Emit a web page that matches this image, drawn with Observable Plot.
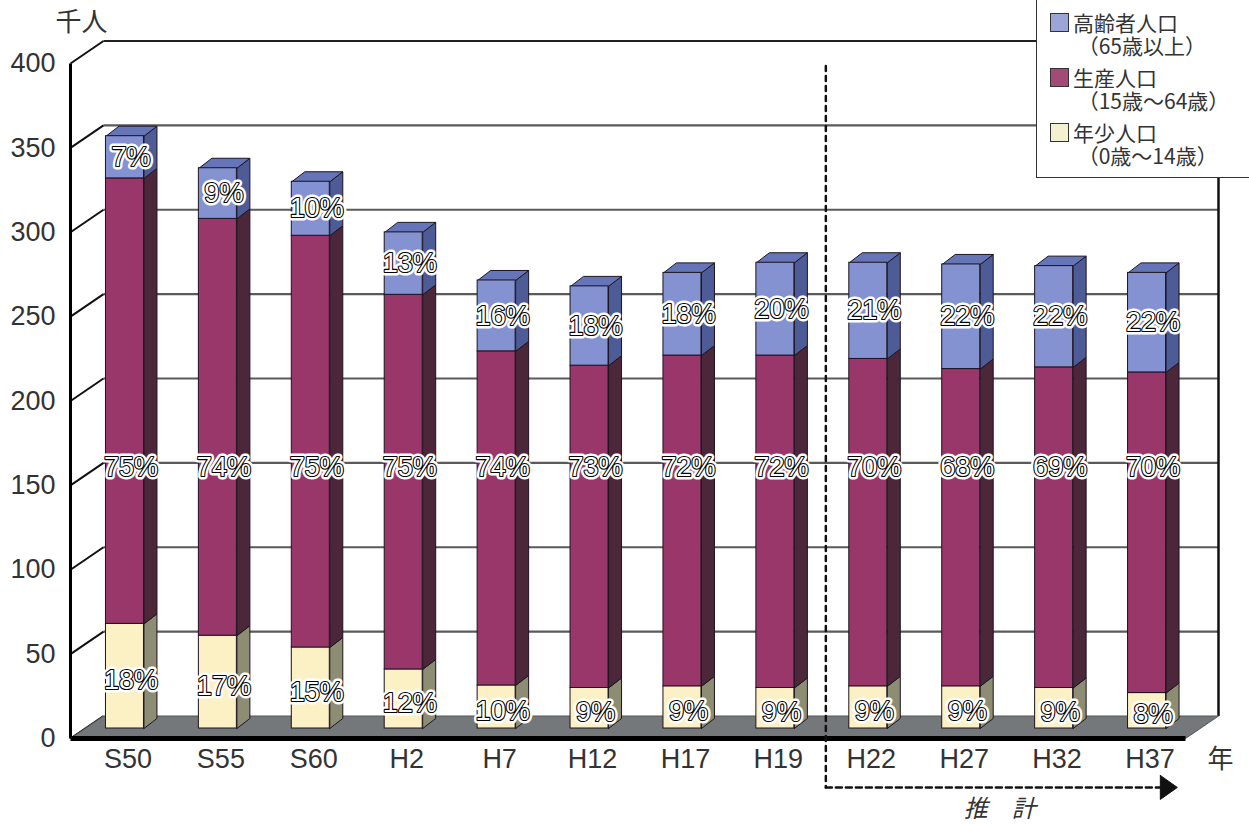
<!DOCTYPE html>
<html>
<head>
<meta charset="utf-8">
<script src="https://cdn.jsdelivr.net/npm/d3@7"></script>
<script src="https://cdn.jsdelivr.net/npm/@observablehq/plot@0.6"></script>
<style>
  html, body { margin: 0; padding: 0; background: #fff; }
  #wrap { position: relative; width: 1249px; height: 824px; overflow: hidden; }
  #legend { position: absolute; left: 1036px; top: -1px; width: 230px; height: 179px;
            border: 1px solid #333; background: #fff; box-sizing: border-box;
            font-family: "Noto Sans CJK JP", "Liberation Sans", sans-serif; color: #333; }
  .sw { position: absolute; left: 13px; width: 19px; height: 19px; border: 1px solid #333; box-sizing: border-box; }
  .lt { position: absolute; left: 36px; font-size: 21px; line-height: 23px; white-space: pre; }
</style>
</head>
<body>
<div id="wrap"><div id="chart"></div><div id="legend"></div></div>
<script>
// ---- data (thousand persons) ----
const categories = ["S50","S55","S60","H2","H7","H12","H17","H19","H22","H27","H32","H37"];
const young   = [62, 55, 48, 35, 25.5, 24, 25, 24, 25, 25, 24, 21];
const working = [264, 247, 244, 222, 198, 191, 196, 197, 194, 188, 190, 190];
const elderly = [25, 30, 32, 37, 42, 47, 49, 55, 57, 62, 60, 59];
const youngPct   = ["18%","17%","15%","12%","10%","9%","9%","9%","9%","9%","9%","8%"];
const workingPct = ["75%","74%","75%","75%","74%","73%","72%","72%","70%","68%","69%","70%"];
const elderlyPct = ["7%","9%","10%","13%","16%","18%","18%","20%","21%","22%","22%","22%"];
const yTicks = [0, 50, 100, 150, 200, 250, 300, 350, 400];
const legendItems = [
  {line1: "高齢者人口", line2: "（65歳以上）", color: "#9aa5d8"},
  {line1: "生産人口",   line2: "（15歳〜64歳）", color: "#a34b76"},
  {line1: "年少人口",   line2: "（0歳〜14歳）", color: "#f4f1d0"}
];
const forecastFrom = "H22";

// ---- layout ----
const W = 1249, H = 824;
const mL = 70, mR = 64, mT = 63, mB = 86;
const pxX = (W - mL - mR) / categories.length;
const pxY = (H - mT - mB) / 400;
const WALL_DX = 33 / pxX, WALL_DY = 22.5 / pxY;
const BAR_W = 38 / pxX, DEP_X = 13 / pxX, DEP_Y = 10 / pxY;
const BDX = 8, BDY = -10;
const n = categories.length;

const series = [
  {values: young,   pct: youngPct,   front: "#fcf1c4", side: "#8d8d74", top: "#d9d2a4"},
  {values: working, pct: workingPct, front: "#9a376a", side: "#4c2639", top: "#7a2c56"},
  {values: elderly, pct: elderlyPct, front: "#8492d1", side: "#4d5b97", top: "#6675b8"}
];

const segs = [];
categories.forEach((c, i) => {
  let base = 0;
  series.forEach((s, k) => {
    const v = s.values[i];
    segs.push({i, k, lo: base, hi: base + v, pct: s.pct[i], s, isTop: k === series.length - 1});
    base += v;
  });
});

const sidePts = [], topPts = [];
segs.forEach((g, j) => {
  const xr = g.i + 0.5 + BAR_W / 2, xl = g.i + 0.5 - BAR_W / 2;
  [[xr, g.lo], [xr + DEP_X, g.lo + DEP_Y], [xr + DEP_X, g.hi + DEP_Y], [xr, g.hi], [xr, g.lo]]
    .forEach(([x, y]) => sidePts.push({x, y, z: j, fill: g.s.side}));
  if (g.isTop) {
    [[xl, g.hi], [xr, g.hi], [xr + DEP_X, g.hi + DEP_Y], [xl + DEP_X, g.hi + DEP_Y], [xl, g.hi]]
      .forEach(([x, y]) => topPts.push({x, y, z: j, fill: g.s.top}));
  }
});

const floorPts = [[0, 0], [n, 0], [n + WALL_DX, WALL_DY], [WALL_DX, WALL_DY], [0, 0]].map(([x, y]) => ({x, y}));
const grid = yTicks.filter(v => v > 0 && v < 400);

const fontLatin = '"Liberation Sans", "Noto Sans CJK JP", sans-serif';
const fontJP = '"Noto Sans CJK JP", "Liberation Sans", sans-serif';

// label anchor: middle of segment; working-age labels sit at a common level; young labels a bit lower
const WORK_LABEL_LEVEL = 155;
const labelY = g => g.k === 1 ? WORK_LABEL_LEVEL : (g.lo + g.hi) / 2 - (g.k === 0 ? 4 / pxY : 0);

const fx = categories.indexOf(forecastFrom);
const arrowY = -29;
const arrowEnd = 11.6;

const chart = Plot.plot({
  width: W, height: H,
  marginLeft: mL, marginRight: mR, marginTop: mT, marginBottom: mB,
  x: {type: "linear", domain: [0, n], axis: null},
  y: {domain: [0, 400], axis: null},
  style: {fontFamily: fontLatin, background: "#fff", overflow: "visible"},
  marks: [
    // back wall grid lines
    Plot.link(grid, {x1: () => WALL_DX, x2: () => n + WALL_DX, y1: d => d + WALL_DY, y2: d => d + WALL_DY, stroke: "#5a5a5a", strokeWidth: 2.2}),
    // left wall diagonals
    Plot.link(yTicks, {x1: () => 0, x2: () => WALL_DX, y1: d => d, y2: d => d + WALL_DY, stroke: "#111", strokeWidth: 2}),
    // wall top border and right border
    Plot.link([400], {x1: () => WALL_DX, x2: () => n + WALL_DX, y1: d => d + WALL_DY, y2: d => d + WALL_DY, stroke: "#222", strokeWidth: 2.2}),
    Plot.link([400], {x1: () => n + WALL_DX, x2: () => n + WALL_DX, y1: () => WALL_DY, y2: d => d + WALL_DY, stroke: "#111", strokeWidth: 2.5}),
    // floor
    Plot.line(floorPts, {x: "x", y: "y", fill: "#74787b", stroke: "#555", strokeWidth: 1}),
    // front edge & axis
    Plot.link([0], {x1: () => 0, x2: () => n, y1: d => d, y2: d => d, stroke: "#000", strokeWidth: 5}),
    Plot.link([0], {x1: () => 0, x2: () => 0, y1: d => d, y2: () => 400, stroke: "#000", strokeWidth: 3}),
    // bars: side faces, top faces, front faces
    Plot.line(sidePts, {x: "x", y: "y", z: "z", fill: d => d.fill, stroke: "#1c1420", strokeWidth: 1, dx: BDX, dy: BDY}),
    Plot.line(topPts, {x: "x", y: "y", z: "z", fill: d => d.fill, stroke: "#1c1420", strokeWidth: 1, dx: BDX, dy: BDY}),
    Plot.rect(segs, {x1: g => g.i + 0.5 - BAR_W / 2, x2: g => g.i + 0.5 + BAR_W / 2, y1: "lo", y2: "hi",
      fill: g => g.s.front, stroke: "#1c1420", strokeWidth: 1, dx: BDX, dy: BDY}),
    // percentage labels: white halo then outlined white text
    Plot.text(segs, {x: g => g.i + 0.5, y: labelY, text: "pct", dx: BDX + 6, dy: BDY,
      fontSize: 27, fill: "#fff", stroke: "#fff", strokeWidth: 7, paintOrder: "stroke", fontFamily: fontLatin}),
    Plot.text(segs, {x: g => g.i + 0.5, y: labelY, text: "pct", dx: BDX + 6, dy: BDY,
      fontSize: 27, fill: "#fff", stroke: "#000", strokeWidth: 2.2, paintOrder: "stroke", fontFamily: fontLatin}),
    // y tick labels
    Plot.text(yTicks, {x: () => 0, y: d => d, text: d => String(d), dx: -15, textAnchor: "end",
      fontSize: 27, fill: "#333", fontFamily: fontLatin}),
    // x tick labels
    Plot.text(categories, {x: (d, i) => i + 0.5, y: () => 0, text: d => d, dx: 11, dy: 21,
      fontSize: 27, fill: "#333", fontFamily: fontLatin}),
    // unit labels
    Plot.text(["千人"], {x: () => 0, y: () => 400, text: d => d, dx: 11, dy: -41, fontSize: 26, fill: "#333", fontFamily: fontJP}),
    Plot.text(["年"], {x: () => n, y: () => 0, text: d => d, dx: 35, dy: 21, fontSize: 26, fill: "#333", fontFamily: fontJP}),
    // forecast annotation
    Plot.line([{x: fx, y: 398.5}, {x: fx, y: arrowY}], {x: "x", y: "y", dx: 12, stroke: "#111", strokeWidth: 2.5, strokeDasharray: "5,5"}),
    Plot.line([{x: fx, y: arrowY}, {x: arrowEnd, y: arrowY}], {x: "x", y: "y", dx: 12, stroke: "#111", strokeWidth: 2.5, strokeDasharray: "6,4"}),
    Plot.line([{x: arrowEnd, y: arrowY + 12 / pxY}, {x: arrowEnd + 17 / pxX, y: arrowY}, {x: arrowEnd, y: arrowY - 12 / pxY}, {x: arrowEnd, y: arrowY + 12 / pxY}],
      {x: "x", y: "y", dx: 12, fill: "#111", stroke: "#111", strokeWidth: 1}),
    Plot.text(["推　計"], {x: () => 10, y: () => arrowY, text: d => d, dy: 22, fontSize: 24, fontStyle: "italic", fill: "#333", fontFamily: fontJP})
  ]
});
document.getElementById("chart").appendChild(chart);

// legend: each entry is one two-line text block
const lg = document.getElementById("legend");
legendItems.forEach((it, k) => {
  const top = 13 + k * 55;
  const sw = document.createElement("div");
  sw.className = "sw"; sw.style.top = top + "px"; sw.style.background = it.color;
  lg.appendChild(sw);
  const t = document.createElement("div");
  t.className = "lt"; t.style.top = (top - 2) + "px";
  t.textContent = it.line1 + "\n " + it.line2;
  lg.appendChild(t);
});
</script>
</body>
</html>
